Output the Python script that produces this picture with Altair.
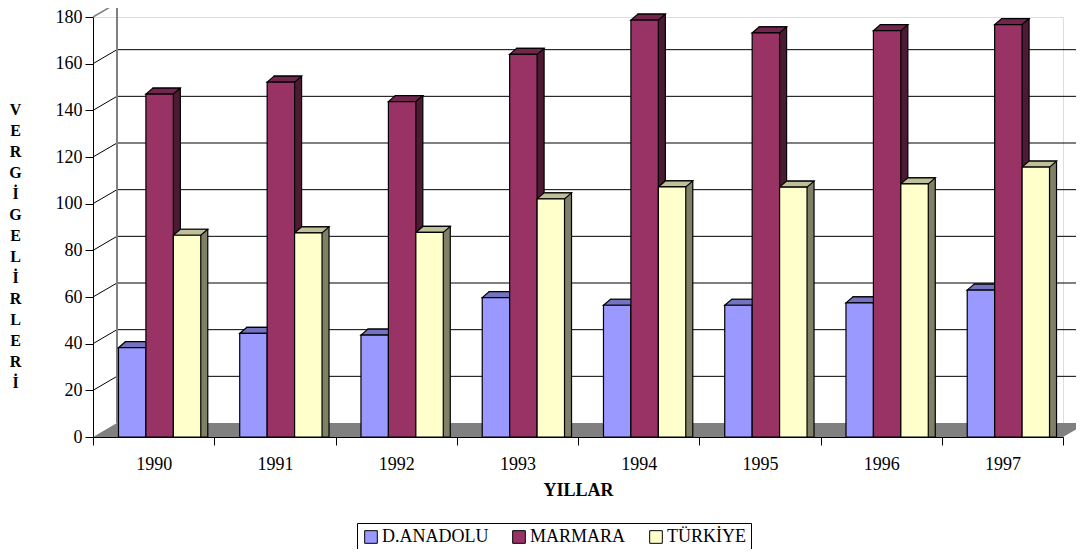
import altair as alt
import pandas as pd

# ---- data ----
years = ["1990", "1991", "1992", "1993", "1994", "1995", "1996", "1997"]
series = ["D.ANADOLU", "MARMARA", "TÜRKİYE"]
d_anadolu = [37.2, 43.3, 42.6, 58.7, 55.4, 55.4, 56.4, 61.9]
marmara = [145.9, 151.0, 142.7, 162.9, 177.6, 172.1, 173.1, 175.7]
turkiye = [85.4, 86.4, 86.6, 101.0, 106.1, 106.0, 107.4, 114.6]
y_ticks = [0, 20, 40, 60, 80, 100, 120, 140, 160, 180]
y_title = ["V", "E", "R", "G", "İ", "G", "E", "L", "İ", "R", "L", "E", "R", "İ"]

# ---- styles ----
front_colors = ["#9999FF", "#993366", "#FFFFCC"]
top_colors = ["#7373BF", "#73264D", "#BFBF99"]
side_colors = ["#4D4D80", "#4D1A33", "#808066"]
FONT = "Liberation Serif"

# ---- layout ----
W, H = 970, 420
DX, DY = 24, 14          # wall / floor depth
BD, BE = 7, 6            # bar depth
SX, SY = 6, 2.5          # bars sit a little behind the front edge
step = W / len(years)
group = 82.3
start = (step - group) / 2 + SX
bw = group / len(series)

df = pd.DataFrame({
    "year": years * 3,
    "series": [s for s in series for _ in years],
    "value": d_anadolu + marmara + turkiye,
})

yscale = alt.Scale(domain=[0, 180], nice=False)

x_axis = alt.Axis(title="YILLAR", labelAngle=0, labelAlign="center", labelBaseline="top",
                  tickBand="extent", tickSize=8,
                  labelPadding=10, labelFont=FONT, labelFontSize=18, labelColor="black",
                  domainColor="black", tickColor="black", grid=False,
                  titleFont=FONT, titleFontSize=18, titleFontWeight="bold",
                  titleColor="black", titleX=W / 2, titleY=58,
                  titleAlign="center", titleBaseline="alphabetic")
y_axis = alt.Axis(values=y_ticks, title=y_title, titleAngle=0, grid=False,
                  labelAlign="right", labelBaseline="middle",
                  tickSize=8, labelPadding=3, labelFont=FONT, labelFontSize=18,
                  labelColor="black", domainColor="black", tickColor="black",
                  titleFont=FONT, titleFontSize=16, titleFontWeight="bold",
                  titleColor="black", titleX=-78, titleY=97, titleAlign="center",
                  titleBaseline="alphabetic", titleLineHeight=21)


def xenc():
    return alt.X("year:N", sort=years, scale=alt.Scale(paddingInner=0, paddingOuter=0), axis=x_axis)


def yenc(field):
    return alt.Y(field, scale=yscale, stack=None, axis=y_axis)


def xoff(shift):
    return alt.XOffset("series:N", sort=series,
                       scale=alt.Scale(type="band", domain=series,
                                       range=[start + shift, start + shift + group],
                                       paddingInner=0, paddingOuter=0))


# back wall grid lines
grid = alt.Chart(pd.DataFrame({"v": y_ticks[1:-1]})).mark_rule(
    color="black", strokeWidth=1, yOffset=-DY
).encode(y=yenc("v:Q"), x=alt.value(DX), x2=alt.value(W + DX))

# side wall diagonals
diag = alt.Chart(pd.DataFrame({"v": y_ticks[1:-1]})).mark_rule(
    color="black", strokeWidth=1, y2Offset=-DY
).encode(y=yenc("v:Q"), y2=alt.Y2("v:Q"), x=alt.value(0), x2=alt.value(DX))

# top edges (grey)
top_edge = alt.Chart(pd.DataFrame({"v": [y_ticks[-1]]})).mark_rule(
    color="#808080", strokeWidth=2, yOffset=-DY
).encode(y=yenc("v:Q"), x=alt.value(DX), x2=alt.value(W + DX))
top_diag = alt.Chart(pd.DataFrame({"v": [y_ticks[-1]]})).mark_rule(
    color="#808080", strokeWidth=1.5, y2Offset=-DY
).encode(y=yenc("v:Q"), y2=alt.Y2("v:Q"), x=alt.value(0), x2=alt.value(DX))
back_edge = alt.Chart(pd.DataFrame({"lo": [y_ticks[0]], "hi": [y_ticks[-1]]})).mark_rule(
    color="#808080", strokeWidth=2, yOffset=-DY, y2Offset=-DY
).encode(y=yenc("lo:Q"), y2=alt.Y2("hi:Q"), x=alt.value(DX))

# floor
floor_path = f"M0,0L{W},0L{W + DX},{-DY}L{DX},{-DY}Z"
floor = alt.Chart(alt.Data(values=[{"f": 0}])).mark_point(
    shape=floor_path, size=4, filled=True, opacity=1, color="#808080", strokeWidth=0
).encode(x=alt.value(0), y=alt.value(H))

# bar side faces
side = alt.Chart(df).mark_bar(
    stroke="black", strokeWidth=1.2, yOffset=-(SY + BE), y2Offset=-(SY + BE)
).encode(
    x=xenc(),
    xOffset=xoff(BD),
    y=yenc("value:Q"),
    color=alt.Color("series:N", scale=alt.Scale(domain=series, range=side_colors), legend=None),
)

# bar top faces
k = 10.0
top_path = (f"M{-bw / 2 / k:.4f},0L{bw / 2 / k:.4f},0L{(bw / 2 + BD) / k:.4f},{-BE / k:.4f}"
            f"L{(-bw / 2 + BD) / k:.4f},{-BE / k:.4f}Z")
top = alt.Chart(df).mark_point(
    shape=top_path, size=(2 * k) ** 2, filled=True, opacity=1,
    stroke="black", strokeWidth=1.2, yOffset=-SY
).encode(
    x=xenc(),
    xOffset=xoff(0),
    y=yenc("value:Q"),
    color=alt.Color("series:N", scale=alt.Scale(domain=series, range=top_colors), legend=None),
)

# bar front faces (carry the legend)
front = alt.Chart(df).mark_bar(
    stroke="black", strokeWidth=1.2, yOffset=-SY, y2Offset=-SY
).encode(
    x=xenc(),
    xOffset=xoff(0),
    y=yenc("value:Q"),
    color=alt.Color("series:N", scale=alt.Scale(domain=series, range=front_colors),
                    legend=alt.Legend(title=None, orient="none", legendX=264, legendY=506,
                                      direction="horizontal", strokeColor="black", padding=5,
                                      fillColor="white",
                                      labelFont=FONT, labelFontSize=18, labelColor="black",
                                      symbolType="square", symbolSize=160,
                                      symbolStrokeColor="black", symbolStrokeWidth=1,
                                      symbolOpacity=1, labelOffset=2, columnPadding=21)),
)

chart = alt.layer(grid, diag, top_edge, top_diag, back_edge, floor, side, top, front).resolve_scale(
    xOffset="independent", color="independent"
).properties(
    width=W, height=H,
    autosize=alt.AutoSizeParams(type="none"),
    padding={"left": 85, "top": 9, "right": 13, "bottom": 112},
).configure_view(stroke=None).configure(font=FONT)

chart.save("out.html", embed_options={"renderer": "svg", "actions": False})
